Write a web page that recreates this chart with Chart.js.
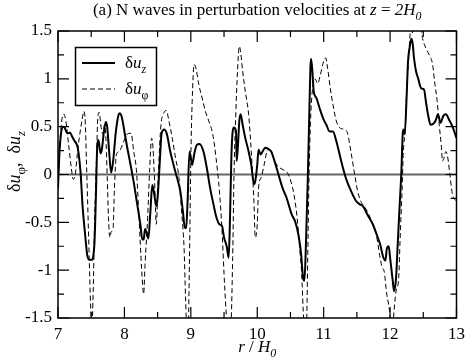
<!DOCTYPE html>
<html>
<head>
<meta charset="utf-8">
<script src="https://cdn.jsdelivr.net/npm/chart.js@4.4.0/dist/chart.umd.min.js"></script>
<style>
  html, body { margin: 0; padding: 0; background: #fff; }
  #wrap { width: 471px; height: 361px; }
</style>
</head>
<body>
<div id="wrap"><canvas id="nwaveChart" width="471" height="361"></canvas></div>
<script>
// ------------------------------------------------------------
// N waves in perturbation velocities at z = 2H0 (du_z solid, du_phi dashed)
// ------------------------------------------------------------

const SERIF = '"Liberation Serif", "Times New Roman", serif';

// du_z (solid)
const rUz = [
  7.00, 7.02, 7.05, 7.08, 7.10, 7.13, 7.16, 7.18, 7.21, 7.25, 7.29, 7.31, 7.34, 7.37, 7.41, 7.44,
  7.47, 7.51, 7.53, 7.55, 7.57, 7.59, 7.61, 7.64, 7.66, 7.69, 7.72, 7.74, 7.77, 7.80, 7.83, 7.87,
  7.91, 7.93, 7.96, 8.00, 8.04, 8.09, 8.14, 8.19, 8.24, 8.27, 8.29, 8.31, 8.34, 8.36, 8.39, 8.42,
  8.45, 8.48, 8.50, 8.53, 8.56, 8.60, 8.64, 8.69, 8.74, 8.79, 8.84, 8.88, 8.91, 8.93, 8.95, 8.98,
  9.00, 9.02, 9.05, 9.09, 9.13, 9.19, 9.24, 9.29, 9.34, 9.39, 9.43, 9.47, 9.50, 9.54, 9.57, 9.59,
  9.61, 9.63, 9.65, 9.68, 9.69, 9.71, 9.73, 9.75, 9.78, 9.82, 9.87, 9.91, 9.95, 9.97, 10.00, 10.02,
  10.05, 10.08, 10.12, 10.16, 10.21, 10.26, 10.32, 10.38, 10.44, 10.52, 10.57, 10.62, 10.66, 10.69, 10.71, 10.73,
  10.76, 10.78, 10.80, 10.81, 10.83, 10.85, 10.89, 10.94, 10.99, 11.04, 11.09, 11.14, 11.19, 11.24, 11.29, 11.34,
  11.41, 11.49, 11.54, 11.59, 11.66, 11.74, 11.80, 11.85, 11.90, 11.93, 11.95, 11.98, 12.00, 12.04, 12.06, 12.09,
  12.11, 12.14, 12.17, 12.19, 12.20, 12.22, 12.25, 12.27, 12.30, 12.32, 12.34, 12.36, 12.39, 12.42, 12.47, 12.51,
  12.54, 12.57, 12.61, 12.65, 12.69, 12.72, 12.76, 12.80, 12.84, 12.89, 12.94, 13.00
];
const uzValues = [
  -0.15, 0.20, 0.45, 0.50, 0.49, 0.44, 0.43, 0.44, 0.40, 0.35, 0.30, 0.22, 0.02, -0.33, -0.64, -0.84,
  -0.89, -0.89, -0.86, -0.70, -0.25, 0.28, 0.36, 0.22, 0.26, 0.44, 0.55, 0.50, 0.24, 0.02, 0.14, 0.44,
  0.62, 0.64, 0.60, 0.45, 0.29, 0.11, -0.08, -0.30, -0.52, -0.68, -0.68, -0.57, -0.62, -0.67, -0.40, -0.11,
  -0.21, -0.33, -0.24, 0.10, 0.43, 0.47, 0.42, 0.24, 0.10, -0.03, -0.17, -0.38, -0.56, -0.56, -0.30, 0.24,
  0.17, 0.10, 0.21, 0.31, 0.32, 0.24, 0.07, -0.14, -0.31, -0.46, -0.52, -0.54, -0.66, -0.75, -0.87, -0.45,
  0.17, 0.45, 0.49, 0.45, 0.14, 0.31, 0.56, 0.63, 0.52, 0.38, 0.24, 0.10, -0.10, -0.07, 0.10, 0.26,
  0.21, 0.24, 0.28, 0.27, 0.24, 0.14, 0.00, -0.14, -0.24, -0.42, -0.49, -0.63, -0.83, -1.08, -1.11, -0.80,
  -0.07, 0.52, 1.11, 1.21, 1.08, 0.87, 0.80, 0.69, 0.59, 0.52, 0.45, 0.45, 0.35, 0.21, 0.07, -0.05,
  -0.17, -0.28, -0.31, -0.33, -0.42, -0.52, -0.63, -0.73, -0.87, -0.90, -0.78, -0.75, -0.87, -1.11, -1.22, -1.08,
  -0.80, -0.38, 0.03, 0.42, 0.47, 0.42, 0.83, 1.18, 1.35, 1.42, 1.37, 1.22, 1.08, 1.01, 0.90, 0.89,
  0.76, 0.63, 0.52, 0.53, 0.57, 0.63, 0.54, 0.61, 0.63, 0.57, 0.50, 0.38
];

// du_phi (dashed)
const rUphi = [
  7.00, 7.03, 7.06, 7.09, 7.12, 7.16, 7.20, 7.23, 7.26, 7.29, 7.32, 7.36, 7.39, 7.41, 7.43, 7.45,
  7.47, 7.49, 7.51, 7.53, 7.55, 7.58, 7.60, 7.62, 7.65, 7.68, 7.70, 7.72, 7.74, 7.76, 7.78, 7.80,
  7.83, 7.85, 7.88, 7.92, 7.97, 8.01, 8.06, 8.10, 8.14, 8.18, 8.22, 8.26, 8.29, 8.31, 8.35, 8.38,
  8.41, 8.43, 8.46, 8.48, 8.51, 8.55, 8.58, 8.63, 8.67, 8.72, 8.77, 8.82, 8.86, 8.90, 8.92, 8.94,
  8.96, 8.98, 9.00, 9.02, 9.05, 9.08, 9.12, 9.17, 9.22, 9.27, 9.33, 9.38, 9.43, 9.47, 9.50, 9.53,
  9.55, 9.60, 9.63, 9.65, 9.68, 9.70, 9.73, 9.75, 9.78, 9.82, 9.87, 9.91, 9.95, 9.97, 10.00, 10.02,
  10.06, 10.10, 10.16, 10.21, 10.27, 10.32, 10.39, 10.46, 10.51, 10.55, 10.60, 10.64, 10.67, 10.69, 10.71, 10.74,
  10.76, 10.78, 10.80, 10.82, 10.85, 10.87, 10.91, 10.95, 10.99, 11.03, 11.06, 11.10, 11.14, 11.19, 11.24, 11.31,
  11.36, 11.41, 11.46, 11.51, 11.56, 11.61, 11.68, 11.76, 11.80, 11.85, 11.88, 11.91, 11.95, 11.99, 12.01, 12.04,
  12.06, 12.09, 12.13, 12.15, 12.18, 12.20, 12.23, 12.25, 12.28, 12.30, 12.32, 12.34, 12.36, 12.42, 12.46, 12.49,
  12.54, 12.59, 12.64, 12.67, 12.71, 12.74, 12.77, 12.79, 12.81, 12.84, 12.87, 12.90, 12.94, 13.00
];
const uphiValues = [
  -0.12, 0.35, 0.58, 0.63, 0.55, 0.31, 0.07, -0.05, 0.00, 0.21, 0.38, 0.56, 0.66, 0.55, 0.10, -0.38,
  -0.87, -1.35, -1.58, -1.22, -0.52, 0.17, 0.60, 0.65, 0.49, 0.42, 0.52, 0.40, 0.00, -0.45, -0.66, -0.60,
  -0.56, -0.14, 0.21, 0.24, 0.31, 0.38, 0.43, 0.43, 0.24, 0.05, -0.45, -1.00, -1.25, -0.95, -0.45, 0.05,
  0.38, 0.28, -0.17, -0.52, 0.00, 0.52, 0.62, 0.67, 0.56, 0.38, 0.17, -0.03, -0.38, -0.80, -1.28, -1.60,
  -1.60, -0.87, 0.17, 0.76, 1.15, 1.10, 0.94, 0.80, 0.66, 0.56, 0.42, 0.17, -0.17, -0.59, -1.04, -1.42,
  -1.60, -1.60, -0.87, 0.00, 0.69, 1.04, 1.34, 1.28, 1.08, 0.87, 0.63, 0.24, -0.28, -0.66, -0.52, -0.14,
  -0.03, 0.09, 0.26, 0.24, 0.13, 0.08, 0.05, 0.01, -0.08, -0.20, -0.45, -0.78, -1.05, -1.39, -1.60, -1.60,
  -0.87, 0.00, 0.52, 0.80, 0.97, 1.00, 0.95, 1.04, 1.16, 1.22, 1.11, 0.90, 0.73, 0.56, 0.49, 0.47,
  0.43, 0.24, 0.03, -0.17, -0.28, -0.33, -0.42, -0.56, -0.66, -0.87, -0.97, -1.01, -1.25, -1.42, -1.60, -1.60,
  -1.42, -1.22, -1.08, -0.69, -0.17, 0.24, 0.49, 0.87, 1.22, 1.46, 1.56, 1.47, 1.60, 1.62, 1.55, 1.42,
  1.32, 1.25, 1.15, 0.97, 0.76, 0.52, 0.31, 0.14, 0.17, 0.24, 0.17, 0.00, -0.21, -0.28
];

const xTickLabels = ['7', '8', '9', '10', '11', '12', '13'];
const yTickLabels = ['-1.5', '-1', '-0.5', '0', '0.5', '1', '1.5'];

// rich text: [texto, estilo] con 'i' = itálica, 's' = subíndice
function drawRich(ctx, parts, x, y, size, align) {
  let total = 0;
  const segs = parts.map(([t, st]) => {
    const sub = st.includes('s');
    const fs = sub ? Math.round(size * 0.72) : size;
    const font = (st.includes('i') ? 'italic ' : '') + fs + 'px ' + SERIF;
    ctx.font = font;
    const w = ctx.measureText(t).width;
    total += w;
    return { t, font, sub, w };
  });
  let cx = align === 'center' ? x - total / 2 : x;
  segs.forEach(s => {
    ctx.font = s.font;
    ctx.fillText(s.t, cx, y + (s.sub ? size * 0.3 : 0));
    cx += s.w;
  });
}

const zeroLinePlugin = {
  id: 'zeroLine',
  beforeDatasetsDraw(chart) {
    const { ctx, chartArea: a, scales: { y } } = chart;
    const py = y.getPixelForValue(0);
    ctx.save();
    ctx.strokeStyle = '#666';
    ctx.lineWidth = 2;
    ctx.beginPath();
    ctx.moveTo(a.left, py);
    ctx.lineTo(a.right, py);
    ctx.stroke();
    ctx.restore();
  }
};

const frameAndTextPlugin = {
  id: 'frameAndText',
  afterDatasetsDraw(chart) {
    const { ctx, chartArea: a, scales: { x, y } } = chart;
    ctx.save();
    ctx.strokeStyle = '#000';
    ctx.lineWidth = 1.5;
    ctx.strokeRect(a.left, a.top, a.right - a.left, a.bottom - a.top);

    // ticks hacia adentro en los 4 lados
    ctx.lineWidth = 1.2;
    ctx.beginPath();
    for (let i = 0; i <= 12; i++) {
      const px = x.getPixelForValue(7 + i * 0.5);
      const len = i % 2 === 0 ? 11 : 6;
      ctx.moveTo(px, a.bottom); ctx.lineTo(px, a.bottom - len);
      ctx.moveTo(px, a.top); ctx.lineTo(px, a.top + len);
    }
    for (let i = 0; i <= 12; i++) {
      const py = y.getPixelForValue(-1.5 + i * 0.25);
      const len = i % 2 === 0 ? 11 : 6;
      ctx.moveTo(a.left, py); ctx.lineTo(a.left + len, py);
      ctx.moveTo(a.right, py); ctx.lineTo(a.right - len, py);
    }
    ctx.stroke();

    // leyenda
    ctx.fillStyle = '#fff';
    ctx.fillRect(75.5, 47.5, 81, 58);
    ctx.lineWidth = 1.5;
    ctx.strokeRect(75.5, 47.5, 81, 58);
    const items = chart.data.datasets;
    items.forEach((ds, k) => {
      const ly = 63 + k * 26;
      ctx.strokeStyle = ds.borderColor;
      ctx.lineWidth = ds.borderWidth;
      ctx.setLineDash(ds.borderDash || []);
      ctx.beginPath();
      ctx.moveTo(82, ly);
      ctx.lineTo(115, ly);
      ctx.stroke();
      ctx.setLineDash([]);
      ctx.fillStyle = '#000';
      drawRich(ctx, [['δ', ''], ['u', 'i'], [ds.sub, ds.subStyle]], 125, ly + 5, 17, 'left');
    });

    // títulos
    ctx.fillStyle = '#000';
    drawRich(ctx, [['(a) N waves in perturbation velocities at ', ''], ['z', 'i'], [' = ', ''],
      ['2H', 'i'], ['0', 'is']], (a.left + a.right) / 2, 15, 17, 'center');
    drawRich(ctx, [['r', 'i'], [' / ', ''], ['H', 'i'], ['0', 'is']], (a.left + a.right) / 2, 352, 17, 'center');
    ctx.translate(20, (a.top + a.bottom) / 2 - 13);
    ctx.rotate(-Math.PI / 2);
    drawRich(ctx, [['δ', ''], ['u', 'i'], ['φ', 's'], [',  δ', ''], ['u', 'i'], ['z', 'is']], 0, 0, 18, 'center');
    ctx.restore();
  }
};

new Chart(document.getElementById('nwaveChart'), {
  type: 'line',
  data: {
    datasets: [
      {
        label: 'δu_z',
        sub: 'z', subStyle: 'is',
        data: rUz.map((r, i) => ({ x: r, y: uzValues[i] })),
        borderColor: '#000',
        borderWidth: 2,
        pointRadius: 0,
        cubicInterpolationMode: 'monotone',
        fill: false,
      },
      {
        label: 'δu_φ',
        sub: 'φ', subStyle: 's',
        data: rUphi.map((r, i) => ({ x: r, y: uphiValues[i] })),
        borderColor: '#000',
        borderWidth: 1,
        borderDash: [5, 3],
        pointRadius: 0,
        cubicInterpolationMode: 'monotone',
        fill: false,
      }
    ]
  },
  options: {
    responsive: false,
    devicePixelRatio: 1,
    animation: false,
    layout: { padding: { top: 31, right: 10, left: 0, bottom: 0 } },
    plugins: { legend: { display: false }, tooltip: { enabled: false }, title: { display: false } },
    scales: {
      x: {
        type: 'linear',
        min: 7, max: 13,
        grid: { display: false, drawTicks: false },
        border: { display: false },
        ticks: {
          stepSize: 1,
          padding: 6,
          color: '#000',
          font: { size: 17, family: SERIF },
          maxRotation: 0,
          callback: (v) => xTickLabels[Math.round(v - 7)] ?? ''
        },
        afterFit: (s) => { s.height = 43; }
      },
      y: {
        type: 'linear',
        min: -1.5, max: 1.5,
        grid: { display: false, drawTicks: false },
        border: { display: false },
        ticks: {
          stepSize: 0.5,
          padding: 6,
          color: '#000',
          font: { size: 17, family: SERIF },
          callback: (v) => yTickLabels[Math.round((v + 1.5) * 2)] ?? ''
        },
        afterFit: (s) => { s.width = 58; }
      }
    }
  },
  plugins: [zeroLinePlugin, frameAndTextPlugin]
});
</script>
</body>
</html>
